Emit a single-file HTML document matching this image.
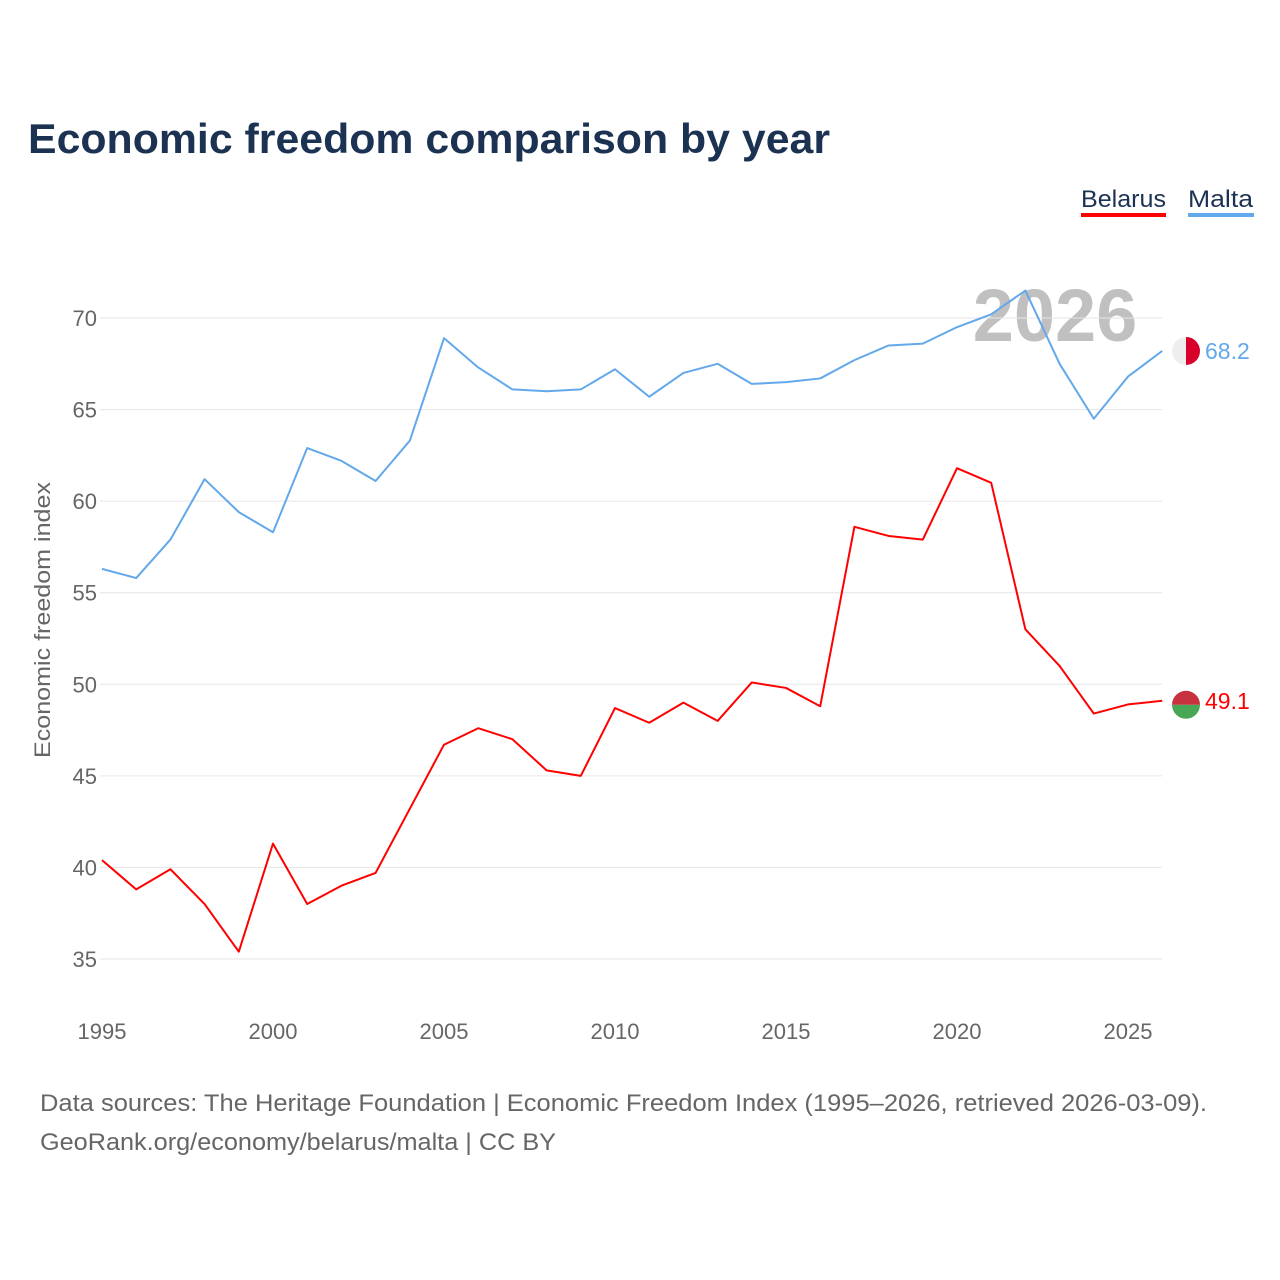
<!DOCTYPE html>
<html><head><meta charset="utf-8"><style>
body{margin:0;background:#fff;}
svg{display:block;font-family:"Liberation Sans",sans-serif;}
</style></head><body>
<svg id="chart" width="1280" height="1280" viewBox="0 0 1280 1280">
<text x="28" y="153" font-size="42" font-weight="bold" fill="#1b3252" textLength="802" lengthAdjust="spacingAndGlyphs">Economic freedom comparison by year</text>
<g>
<text x="1081" y="207" font-size="24" fill="#1b3252" textLength="85" lengthAdjust="spacingAndGlyphs">Belarus</text>
<rect x="1081" y="213" width="85" height="4" fill="#ff0000"/>
<text x="1188" y="207" font-size="24" fill="#1b3252" textLength="65" lengthAdjust="spacingAndGlyphs">Malta</text>
<rect x="1188" y="213" width="66" height="4" fill="#63a8ea"/>
</g>
<text x="1055" y="341" font-size="74" font-weight="bold" fill="#c0c0c0" text-anchor="middle">2026</text>
<g id="grid"></g><g id="axes"></g><g id="series"></g>
<text transform="translate(50,620) rotate(-90)" font-size="22" fill="#666" text-anchor="middle" textLength="276" lengthAdjust="spacingAndGlyphs">Economic freedom index</text>
<text x="40" y="1111" font-size="24" fill="#666" textLength="1167" lengthAdjust="spacingAndGlyphs">Data sources: The Heritage Foundation | Economic Freedom Index (1995–2026, retrieved 2026-03-09).</text>
<text x="40" y="1150" font-size="24" fill="#666" textLength="516" lengthAdjust="spacingAndGlyphs">GeoRank.org/economy/belarus/malta | CC BY</text>
</svg>
<script>
const years=[1995,1996,1997,1998,1999,2000,2001,2002,2003,2004,2005,2006,2007,2008,2009,2010,2011,2012,2013,2014,2015,2016,2017,2018,2019,2020,2021,2022,2023,2024,2025,2026];
const malta=[56.3,55.8,57.9,61.2,59.4,58.3,62.9,62.2,61.1,63.3,68.9,67.3,66.1,66.0,66.1,67.2,65.7,67.0,67.5,66.4,66.5,66.7,67.7,68.5,68.6,69.5,70.2,71.5,67.5,64.5,66.8,68.2];
const belarus=[40.4,38.8,39.9,38.0,35.4,41.3,38.0,39.0,39.7,43.2,46.7,47.6,47.0,45.3,45.0,48.7,47.9,49.0,48.0,50.1,49.8,48.8,58.6,58.1,57.9,61.8,61.0,53.0,51.0,48.4,48.9,49.1];
const yTicks=[35,40,45,50,55,60,65,70];
const xTicks=[1995,2000,2005,2010,2015,2020,2025];
const NS="http://www.w3.org/2000/svg";
function x(v){return 102+(v-1995)*34.2;}
function y(v){return 318+(70-v)*18.314;}
function mk(tag,attrs,parent,text){const e=document.createElementNS(NS,tag);for(const k in attrs)e.setAttribute(k,attrs[k]);if(text!==undefined)e.textContent=text;document.getElementById(parent).appendChild(e);return e;}
yTicks.forEach(t=>{
 const l=mk('line',{x1:100,x2:1162,y1:y(t),y2:y(t),stroke:'#e6e6e6','stroke-width':1},'grid');
 
 
 const tx=mk('text',{x:97,y:y(t)+8,'font-size':22,fill:'#666','text-anchor':'end'},'axes',String(t));
 
 
});
xTicks.forEach(t=>{
 const tx=mk('text',{x:x(t),y:1039,'font-size':22,fill:'#666','text-anchor':'middle'},'axes',String(t));
 
 
});
function series(vals,color,name){
 const p=mk('polyline',{points:vals.map((v,i)=>x(years[i])+','+y(v)).join(' '),fill:'none',stroke:color,'stroke-width':2,'stroke-linejoin':'round'},'series');
 
 
 const last=vals[vals.length-1];
 const ly=y(last);
 const lab=mk('text',{x:1205,y:ly+8,'font-size':23,fill:color},'series',last.toFixed(1));
 
 
}
series(malta,'#63a8ea','malta');
series(belarus,'#ff0000','belarus');
const my=y(malta[malta.length-1]);
const m1=mk('path',{d:'M1186 '+(my-14)+' A14 14 0 0 0 1186 '+(my+14)+' Z',fill:'#eeeeee'},'series');


const m2=mk('path',{d:'M1186 '+(my-14)+' A14 14 0 0 1 1186 '+(my+14)+' Z',fill:'#d8002a'},'series');


const by=y(belarus[belarus.length-1]);
const b1=mk('path',{d:'M1172 '+(by+4)+' A14 14 0 0 0 1200 '+(by+4)+' Z',fill:'#4aa657'},'series');


const b0=mk('path',{d:'M1172 '+(by+4)+' A14 14 0 0 1 1200 '+(by+4)+' Z',fill:'#c8313e'},'series');


</script>
</body></html>
